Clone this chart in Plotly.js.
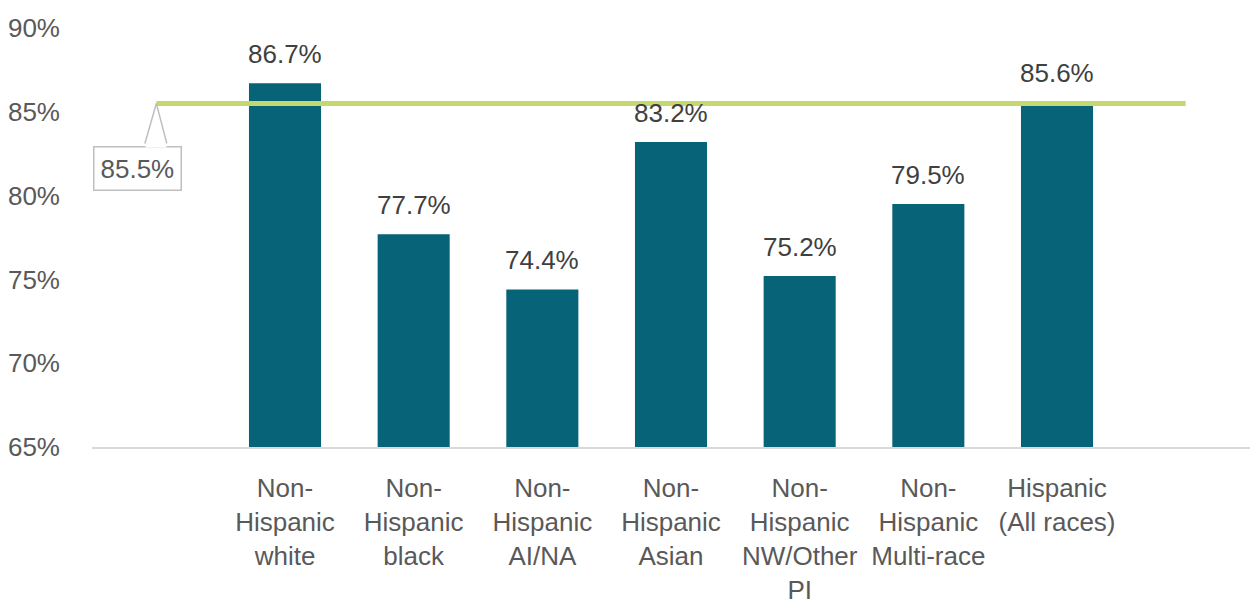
<!DOCTYPE html>
<html>
<head>
<meta charset="utf-8">
<script src="https://cdn.plot.ly/plotly-3.0.1.min.js"></script>
<style>html,body{margin:0;padding:0;background:#fff;}#chart{width:1250px;height:608px;}</style>
</head>
<body>
<div id="chart"></div>
<script>
// Categories (first and last are empty slots that carry the reference line)
var categories = [' ', 'Non-<br>Hispanic<br>white', 'Non-<br>Hispanic<br>black', 'Non-<br>Hispanic<br>AI/NA', 'Non-<br>Hispanic<br>Asian', 'Non-<br>Hispanic<br>NW/Other<br>PI', 'Non-<br>Hispanic<br>Multi-race', 'Hispanic<br>(All races)', '  '];
var barCategories = categories.slice(1, 8);
var barValues = [86.7, 77.7, 74.4, 83.2, 75.2, 79.5, 85.6];
var refValue = 85.5;
var refLineX = [categories[0], categories[8]];
var refLineY = [refValue, refValue];
var yTicks = [65, 70, 75, 80, 85, 90];

var FONT = '"Liberation Sans", Arial, sans-serif';

var traces = [
  {
    type: 'bar', x: barCategories, y: barValues,
    marker: {color: '#076378'}, width: 0.56, hoverinfo: 'skip'
  },
  {
    type: 'scatter', mode: 'lines', x: refLineX, y: refLineY,
    line: {color: '#c5d86d', width: 5}, hoverinfo: 'skip'
  }
];

var annotations = barCategories.map(function (c, i) {
  return {
    x: c, y: barValues[i], xref: 'x', yref: 'y',
    text: barValues[i].toFixed(1) + '%', showarrow: false,
    yanchor: 'bottom', yshift: 12,
    font: {family: FONT, size: 26, color: '#404040'}
  };
});
// callout box
annotations.push({x: categories[0], y: refValue, xref: 'x', yref: 'y',
  text: refValue.toFixed(1) + '%', showarrow: false, xshift: -19, yshift: -65,
  bgcolor: '#ffffff', bordercolor: '#bfbfbf', borderwidth: 1.5, borderpad: 6,
  font: {family: FONT, size: 26, color: '#595959'}});
// gap in the box top where the callout pointer joins
annotations.push({x: categories[0], y: refValue, xref: 'x', yref: 'y', text: ' ', font: {size: 1},
  showarrow: false, width: 20, height: 3, borderpad: 0, bgcolor: '#ffffff', yshift: -42.5});
// callout legs
annotations.push({x: categories[0], y: refValue, xref: 'x', yref: 'y', text: ' ', font: {size: 1},
  showarrow: true, arrowhead: 0, arrowwidth: 1.5, arrowcolor: '#bfbfbf', ax: -12, ay: 42});
annotations.push({x: categories[0], y: refValue, xref: 'x', yref: 'y', text: ' ', font: {size: 1},
  showarrow: true, arrowhead: 0, arrowwidth: 1.5, arrowcolor: '#bfbfbf', ax: 11, ay: 42});

var layout = {
  width: 1250, height: 608,
  margin: {l: 92, r: 0, t: 28, b: 161},
  paper_bgcolor: '#ffffff', plot_bgcolor: '#ffffff',
  showlegend: false,
  font: {family: FONT, color: '#595959', size: 26},
  xaxis: {
    type: 'category', categoryorder: 'array', categoryarray: categories,
    range: [-0.5, 8.5], showline: true, linecolor: '#d9d9d9', linewidth: 2,
    ticks: '', showgrid: false, zeroline: false, ticklabelstandoff: 17,
    tickfont: {family: FONT, size: 26, color: '#595959'}
  },
  yaxis: {
    range: [65, 90], tickvals: yTicks, ticktext: yTicks.map(function (v) { return v + '%'; }),
    showgrid: false, zeroline: false, showline: false, ticks: '',
    ticklabelstandoff: 31,
    tickfont: {family: FONT, size: 26, color: '#595959'}
  },
  annotations: annotations,
  bargap: 0.44
};

Plotly.newPlot('chart', traces, layout, {displayModeBar: false, staticPlot: true});
</script>
</body>
</html>
